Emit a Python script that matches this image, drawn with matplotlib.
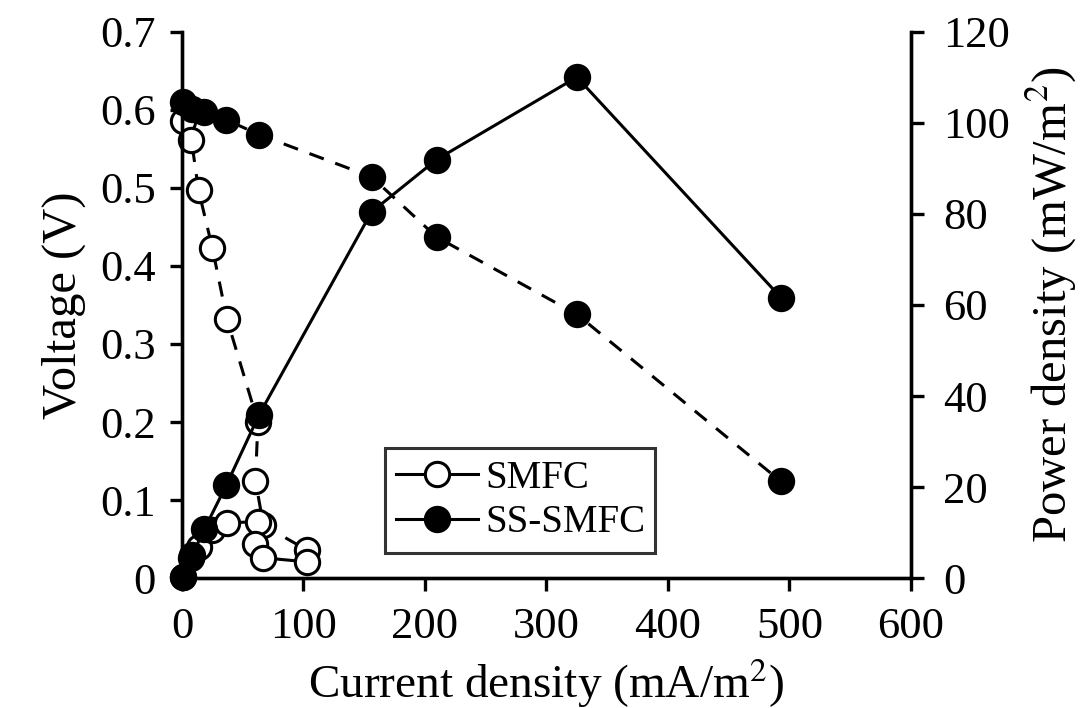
import matplotlib
matplotlib.use("Agg")
import matplotlib.pyplot as plt

# values
smfc_current = [0.5, 7.8, 13.6, 25, 37, 62.5, 60.5, 67, 103]
smfc_voltage = [0.585, 0.561, 0.497, 0.423, 0.332, 0.200, 0.125, 0.068, 0.036]
smfc_power = [0.3, 4.4, 6.8, 10.6, 12.2, 12.4, 7.5, 4.5, 3.6]

ss_current = [0.5, 8.6, 18.5, 36.6, 63.5, 156, 209.5, 325, 493]
ss_voltage = [0.610, 0.601, 0.597, 0.587, 0.568, 0.514, 0.437, 0.338, 0.124]
ss_power = [0.3, 5.2, 10.8, 20.5, 35.9, 80.4, 91.9, 110, 61.6]

x_ticks = [0, 100, 200, 300, 400, 500, 600]
v_ticks = [0, 0.1, 0.2, 0.3, 0.4, 0.5, 0.6, 0.7]
p_ticks = [0, 20, 40, 60, 80, 100, 120]

plt.rcParams['font.family'] = ['Liberation Serif', 'DejaVu Serif']
plt.rcParams['mathtext.fontset'] = 'stix'

fig = plt.figure(figsize=(10.8, 7.08), dpi=100)
ax = fig.add_axes([0.1685, 0.1832, 0.675, 0.7722])
ax2 = ax.twinx()

lw = 2.2
ms = 17.5
mew = 2.2
dash = (0, (5, 4))

ax.plot(smfc_current, smfc_voltage, linestyle=dash, color='black', lw=lw,
        marker='o', ms=ms, mfc='white', mec='black', mew=mew, clip_on=False)
ax.plot(ss_current, ss_voltage, linestyle=dash, color='black', lw=lw,
        marker='o', ms=ms, mfc='black', mec='black', mew=mew, clip_on=False)

l1, = ax2.plot(smfc_current, smfc_power, '-', color='black', lw=lw,
               marker='o', ms=ms, mfc='white', mec='black', mew=mew, clip_on=False)
l2, = ax2.plot(ss_current, ss_power, '-', color='black', lw=lw,
               marker='o', ms=ms, mfc='black', mec='black', mew=mew, clip_on=False)

ax.set_xlim(0, 600)
ax.set_ylim(0, 0.7)
ax2.set_ylim(0, 120)
ax.set_xticks(x_ticks)
ax.set_yticks(v_ticks)
ax2.set_yticks(p_ticks)
ax.set_yticklabels(['0' if v == 0 else f'{v:.1f}' for v in v_ticks])

for a in (ax, ax2):
    for s in a.spines.values():
        s.set_linewidth(2.4)
    a.spines['top'].set_visible(False)
    a.tick_params(direction='out', length=9, width=2.4, labelsize=32)
ax.tick_params(axis='y', pad=10)
ax.tick_params(axis='x', pad=12)
ax2.tick_params(axis='y', pad=14)

ax.set_xlabel('Current density (mA/m$^2$)', fontsize=34, labelpad=6)
ax.set_ylabel('Voltage (V)', fontsize=35, labelpad=10)
ax2.set_ylabel('Power density (mW/m$^2$)', fontsize=35, labelpad=10)

leg = ax2.legend([l1, l2], ['SMFC', 'SS-SMFC'], loc='lower left',
                 bbox_to_anchor=(0.278, 0.046, 0.371, 0.185), mode='expand',
                 borderaxespad=0, fontsize=28, frameon=True, fancybox=False,
                 handlelength=2.1, borderpad=0.3, labelspacing=0.2,
                 handletextpad=0.2)
leg.get_frame().set_edgecolor('black')
leg.get_frame().set_linewidth(2.2)

fig.savefig('out.png', dpi=100)
